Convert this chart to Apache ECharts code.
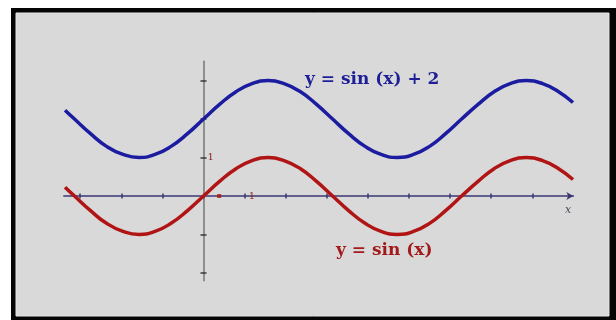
<!DOCTYPE html>
<html>
<head>
<meta charset="utf-8">
<title>y = sin (x)</title>
<script src="https://cdn.jsdelivr.net/npm/echarts@6.0.0/dist/echarts.min.js"></script>
<style>
  html, body { margin: 0; padding: 0; background: #ffffff; }
  #divChart { width: 616px; height: 320px; }
</style>
</head>
<body>
<div id="divChart"></div>
<script>
//****************************** Data **********************************************************//

// x positions (radians) where the curves were read, roughly every eighth of pi
var xValues = [-3.37, -3.14, -2.75, -2.36, -1.96, -1.57, -1.18, -0.79, -0.39, 0, 0.39, 0.79, 1.18, 1.57, 1.96, 2.36, 2.75, 3.14, 3.53, 3.93, 4.32, 4.71, 5.11, 5.5, 5.89, 6.28, 6.68, 7.07, 7.46, 7.85, 8.25, 8.64, 8.99];

// red curve  y = sin (x)
var sinValues = [0.23, 0, -0.38, -0.71, -0.92, -1, -0.92, -0.71, -0.38, 0, 0.38, 0.71, 0.92, 1, 0.92, 0.71, 0.38, 0, -0.38, -0.71, -0.92, -1, -0.92, -0.71, -0.38, 0, 0.38, 0.71, 0.92, 1, 0.92, 0.71, 0.43];

// blue curve  y = sin (x) + 2
var sinPlusTwoValues = [2.23, 2, 1.62, 1.29, 1.08, 1, 1.08, 1.29, 1.62, 2, 2.38, 2.71, 2.92, 3, 2.92, 2.71, 2.38, 2, 1.62, 1.29, 1.08, 1, 1.08, 1.29, 1.62, 2, 2.38, 2.71, 2.92, 3, 2.92, 2.71, 2.43];

// tick marks on the axes and the labelled ticks
var xTicks = [-3, -2, -1, 0, 1, 2, 3, 4, 5, 6, 7, 8];
var yTicks = [-2, -1, 1, 2, 3];
var xTickLabels = [1];
var yTickLabels = [1];

// small red dot sitting on the x axis near the origin
var dotPoint = [[0.38, 0]];

//****************************** Helpers *************************************//

function toPairs(xs, ys) {
  var out = [];
  for (var i = 0; i < xs.length; i++) {
    out.push([xs[i], ys[i]]);
  }
  return out;
}

//****************************** Chart *************************************//

var dom = document.getElementById("divChart");
var myChart = echarts.init(dom, null, { renderer: "canvas" });

var xLineColor = "#3b3773";
var yLineColor = "#767676";
var yTickColor = "#3a3a3a";
var tickLabelColor = "#8c1f1f";

// grid box: x from -3.4 to 9, y from -2.2 to 3.5
var gridLeft = 63.8;
var gridTop = 61.3;
var gridWidth = 509.6;
var gridHeight = 219.4;
// pixel place of the zero lines, so the axes can be pulled into the grid
var zeroX = 203.5;
var zeroY = 196;

var option = {
  backgroundColor: "#ffffff",
  animation: false,
  grid: { left: gridLeft, top: gridTop, width: gridWidth, height: gridHeight },
  graphic: [
    {
      type: "rect",
      z: -10,
      silent: true,
      shape: { x: 11, y: 8, width: 605, height: 312 },
      style: { fill: "#050505" },
    },
    {
      type: "rect",
      z: -9,
      silent: true,
      shape: { x: 16, y: 13, width: 593, height: 303 },
      style: { fill: "#d9d9d9", stroke: "#e6e6e6", lineWidth: 1 },
    },
    {
      type: "text",
      left: 305,
      top: 71,
      style: {
        text: "y = sin (x) + 2",
        fill: "#1e1e96",
        font: "bold 17px 'DejaVu Serif'",
      },
    },
    {
      type: "text",
      left: 336,
      top: 242,
      style: {
        text: "y = sin (x)",
        fill: "#a21a1a",
        font: "bold 17px 'DejaVu Serif'",
      },
    },
    {
      type: "text",
      left: 565,
      top: 205,
      style: {
        text: "x",
        fill: "#4a4a5a",
        font: "italic 11px 'DejaVu Serif'",
      },
    },
  ],
  xAxis: [
    {
      type: "value",
      min: -3.4,
      max: 9,
      position: "bottom",
      offset: -(gridTop + gridHeight - zeroY),
      splitLine: { show: false },
      axisLine: {
        onZero: false,
        symbol: ["none", "arrow"],
        symbolSize: [6, 7],
        lineStyle: { color: xLineColor, width: 1.5 },
      },
      axisTick: {
        show: true,
        customValues: xTicks,
        length: 2.5,
        lineStyle: { color: xLineColor, width: 1.5 },
      },
      axisLabel: { show: false },
    },
    {
      type: "value",
      min: -3.4,
      max: 9,
      position: "top",
      offset: -(zeroY - gridTop),
      splitLine: { show: false },
      axisLine: { show: false, onZero: false },
      axisTick: {
        show: true,
        customValues: xTicks,
        length: 2.5,
        lineStyle: { color: xLineColor, width: 1.5 },
      },
      axisLabel: {
        show: true,
        customValues: xTickLabels,
        margin: 0,
        align: "left",
        verticalAlign: "middle",
        padding: [0, 0, 0, 4],
        color: tickLabelColor,
        fontFamily: "DejaVu Serif",
        fontSize: 10,
      },
    },
  ],
  yAxis: [
    {
      type: "value",
      min: -2.2,
      max: 3.5,
      position: "left",
      offset: -(zeroX - gridLeft),
      splitLine: { show: false },
      axisLine: { onZero: false, lineStyle: { color: yLineColor, width: 1.5 } },
      axisTick: {
        show: true,
        customValues: yTicks,
        length: 3,
        lineStyle: { color: yTickColor, width: 1.5 },
      },
      axisLabel: { show: false },
    },
    {
      type: "value",
      min: -2.2,
      max: 3.5,
      position: "right",
      offset: -(gridLeft + gridWidth - zeroX),
      splitLine: { show: false },
      axisLine: { show: false, onZero: false },
      axisTick: {
        show: true,
        customValues: yTicks,
        length: 3,
        lineStyle: { color: yTickColor, width: 1.5 },
      },
      axisLabel: {
        show: true,
        customValues: yTickLabels,
        margin: 4,
        color: tickLabelColor,
        fontFamily: "DejaVu Serif",
        fontSize: 10,
      },
    },
  ],
  series: [
    {
      name: "y = sin (x) + 2",
      type: "line",
      smooth: true,
      showSymbol: false,
      data: toPairs(xValues, sinPlusTwoValues),
      lineStyle: { color: "#1c1ca0", width: 3.5 },
      z: 3,
    },
    {
      name: "y = sin (x)",
      type: "line",
      smooth: true,
      showSymbol: false,
      data: toPairs(xValues, sinValues),
      lineStyle: { color: "#b01414", width: 3.5 },
      z: 4,
    },
    {
      name: "dot",
      type: "scatter",
      symbol: "rect",
      symbolSize: 4,
      data: dotPoint,
      itemStyle: { color: "#b01414" },
      z: 5,
    },
  ],
};

if (option && typeof option === "object") {
  myChart.setOption(option);
}
window.addEventListener("resize", myChart.resize);
</script>
</body>
</html>
